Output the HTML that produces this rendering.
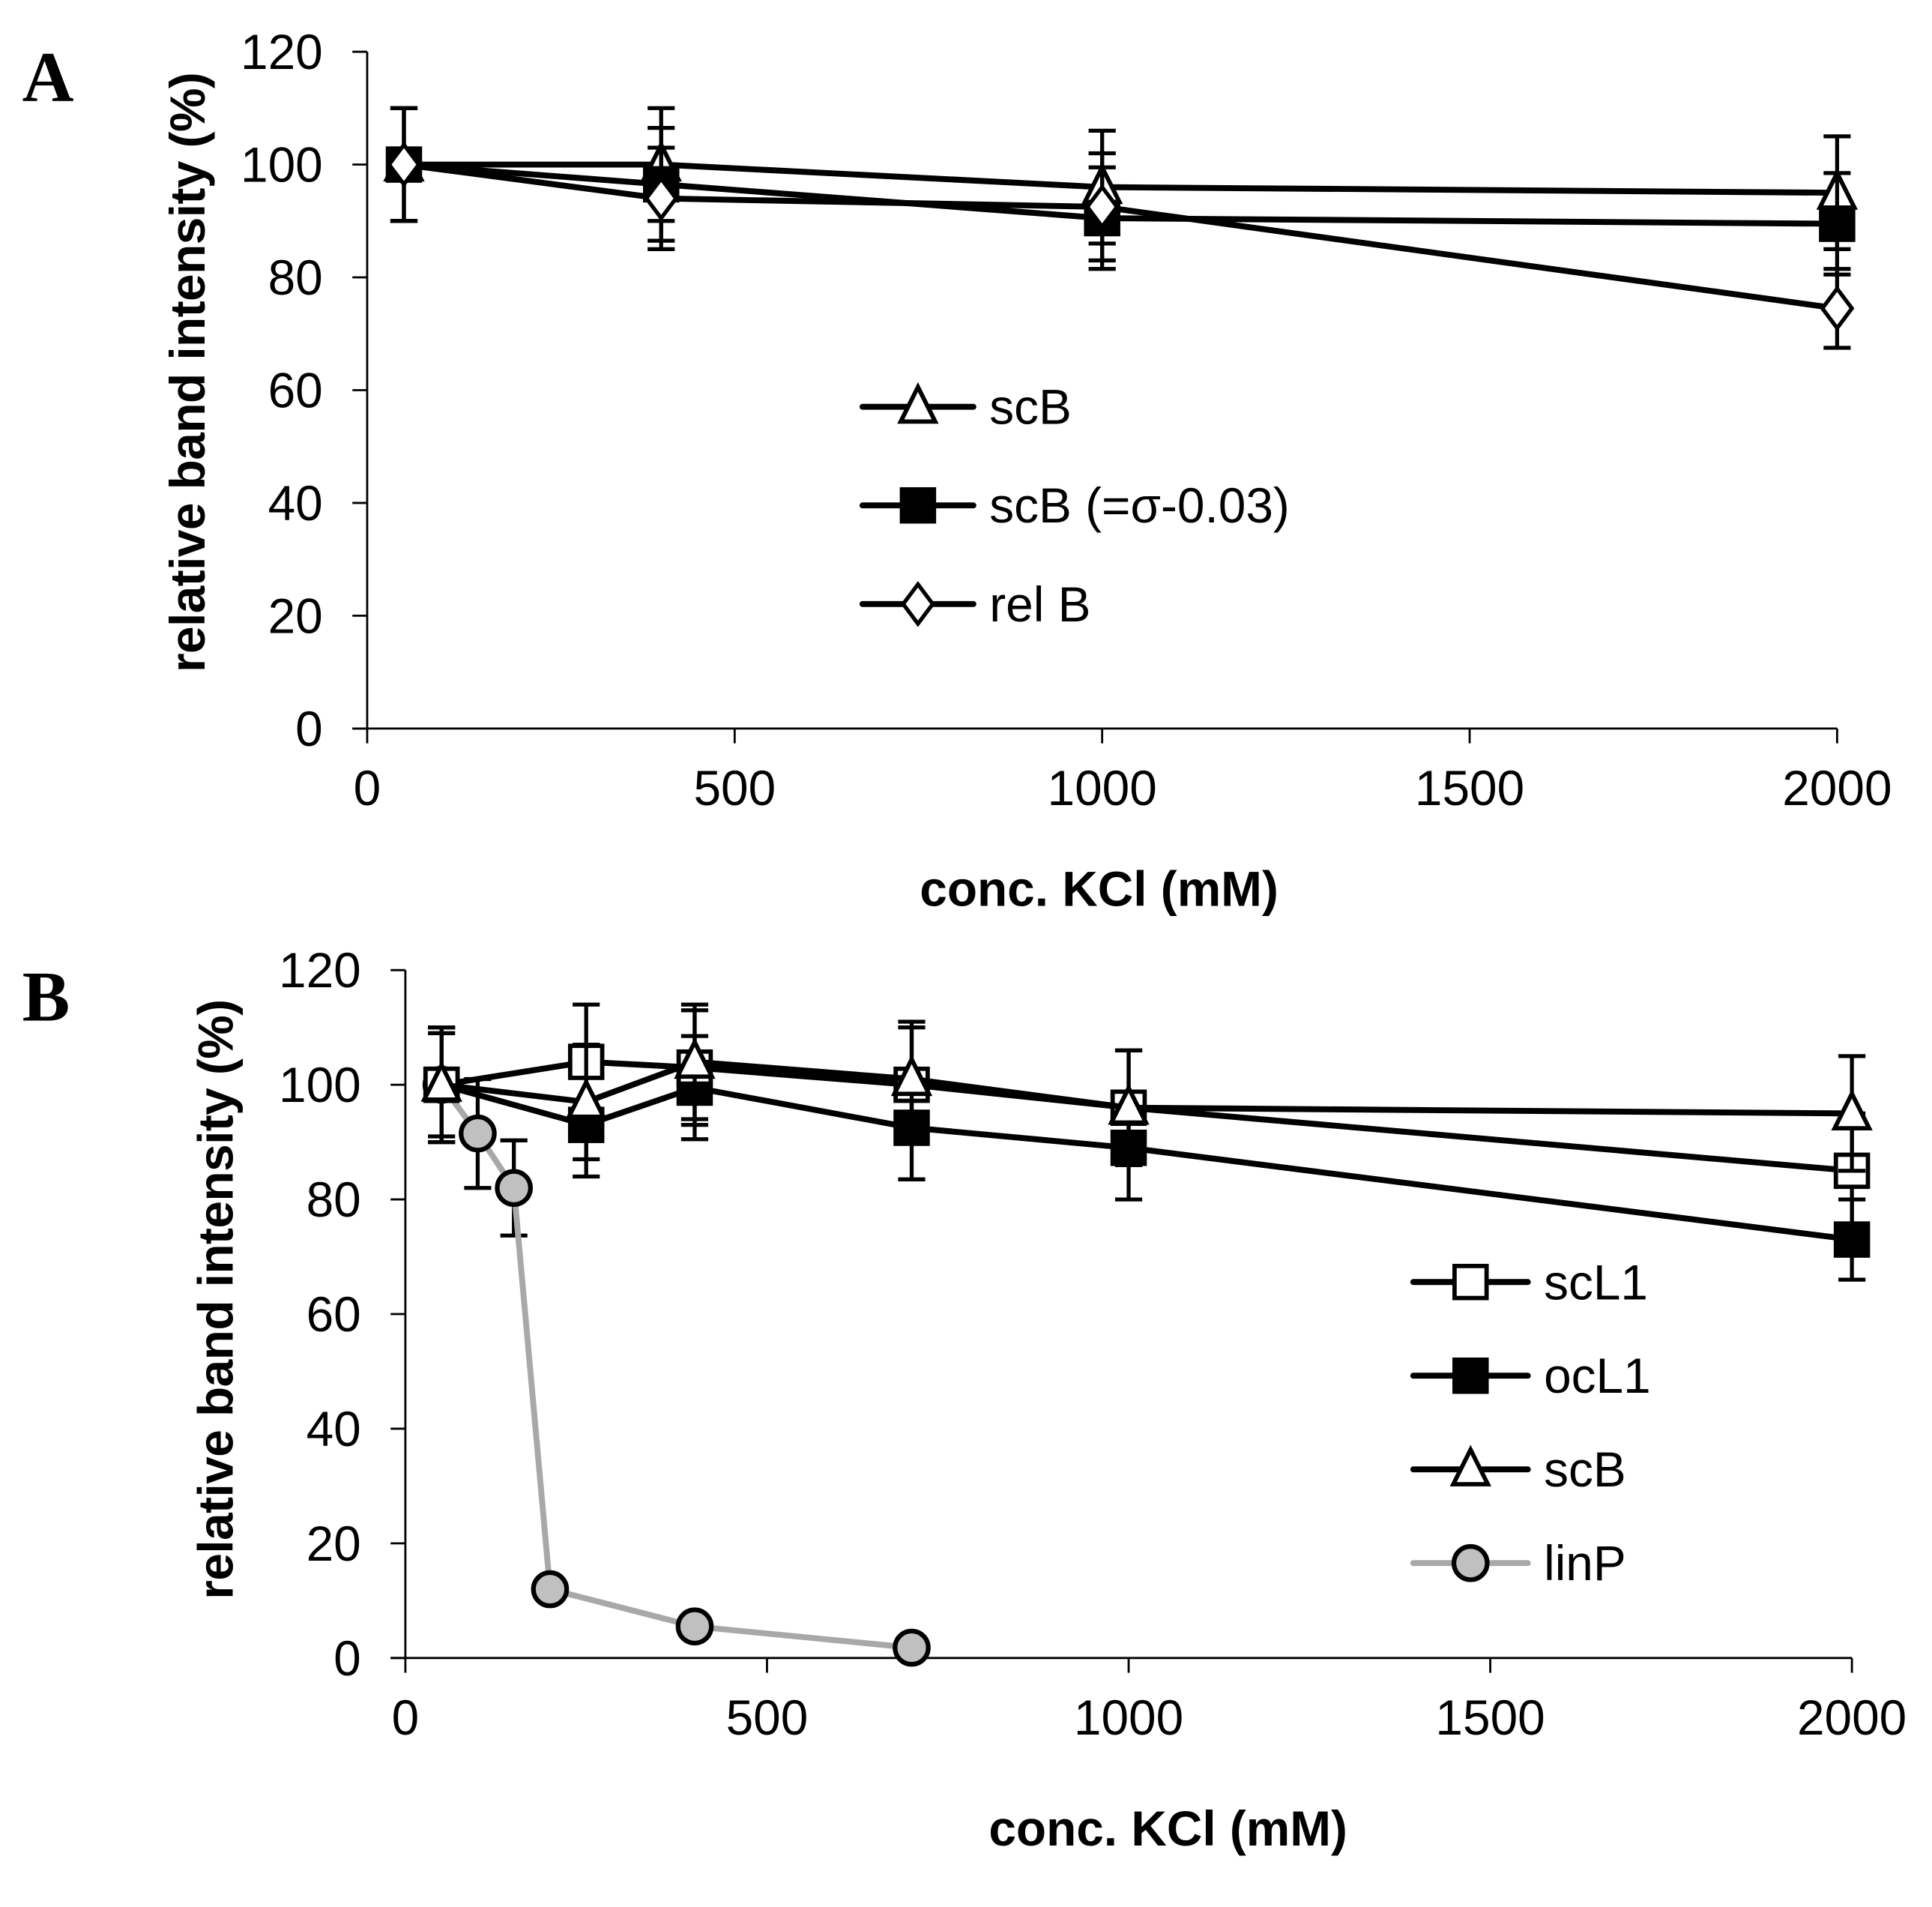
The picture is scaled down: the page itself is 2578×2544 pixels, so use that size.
<!DOCTYPE html>
<html><head><meta charset="utf-8"><style>
html,body{margin:0;padding:0;background:#fff;}
svg{display:block;}
text{font-family:"Liberation Sans",Arial,sans-serif;}
</style></head><body>
<svg id="fig" width="2578" height="2544" viewBox="0 0 1568 1547" preserveAspectRatio="none" xmlns="http://www.w3.org/2000/svg">
<rect width="1568" height="1547" fill="#fff"/>
<text x="18" y="82" style="font-family:'Liberation Serif',serif;font-weight:bold;font-size:58px">A</text>
<text x="18" y="828" style="font-family:'Liberation Serif',serif;font-weight:bold;font-size:58px">B</text>
<g id="chartA"></g>
<g id="chartB"></g>
</svg>
<script>
// Panel A data
const xA = [50, 400, 1000, 2000];
const aScB = [100, 100, 96, 95];
const aScBErr = [10, 10, 10, 10];
const aScBSig = [100, 96.5, 90.5, 89.5];
const aScBSigErr = [10, 10, 9, 9];
const aRelB = [100, 94, 92.5, 74.5];
const aRelBErr = [10, 9, 9.5, 7];
// Panel B data
const xB = [50, 250, 400, 700, 1000, 2000];
const bScL1 = [100, 104, 103, 100, 96, 85];
const bScL1Err = [10, 10, 10, 10, 10, 10];
const bOcL1 = [100, 93, 99.5, 92.5, 89, 73];
const bOcL1Err = [9, 9, 9, 9, 9, 7];
const bScB = [100, 97, 104, 101, 96, 95];
const bScBErr = [10, 10, 10, 10, 10, 10];
const xLin = [50, 100, 150, 200, 400, 700];
const bLinP = [100, 91.5, 82, 12, 5.5, 1.8];
const bLinPErr = [0, 9.5, 8.3, 0, 0, 0];
const yTicks = [0, 20, 40, 60, 80, 100, 120];
const xTicks = [0, 500, 1000, 1500, 2000];

const NS = "http://www.w3.org/2000/svg";
function mk(parent, tag, attrs, txt) {
  const e = document.createElementNS(NS, tag);
  for (const k in attrs) e.setAttribute(k, attrs[k]);
  if (txt !== undefined) e.textContent = txt;
  parent.appendChild(e);
  return e;
}

function axes(g, X, Y, cfg) {
  const ax = mk(g, 'line', {x1: X(0), y1: Y(120), x2: X(0), y2: Y(0), stroke: '#000', 'stroke-width': 1.7});
  
  
  const xl = mk(g, 'line', {x1: X(0) - 12, y1: Y(0), x2: X(2000), y2: Y(0), stroke: '#000', 'stroke-width': 1.7});
  
  
  yTicks.forEach(v => {
    const t = mk(g, 'line', {x1: X(0) - 12, y1: Y(v), x2: X(0), y2: Y(v), stroke: '#000', 'stroke-width': 1.7});
    
    
    const l = mk(g, 'text', {x: X(0) - 36, y: Y(v) + 14, 'font-size': 40, 'text-anchor': 'end'}, String(v));
    
    
  });
  xTicks.forEach(v => {
    const t = mk(g, 'line', {x1: X(v), y1: Y(0), x2: X(v), y2: Y(0) + 12, stroke: '#000', 'stroke-width': 1.7});
    
    
    const l = mk(g, 'text', {x: X(v), y: cfg.xlabY, 'font-size': 40, 'text-anchor': 'middle'}, String(v));
    
    
  });
  const xt = mk(g, 'text', {x: cfg.xtX, y: cfg.xtY, 'font-size': 40, 'font-weight': 'bold', 'text-anchor': 'middle'}, 'conc. KCl (mM)');
  
  
  const yt = mk(g, 'text', {x: 0, y: 0, 'font-size': 40, 'font-weight': 'bold', 'text-anchor': 'middle', textLength: 487, lengthAdjust: 'spacing', transform: `translate(${cfg.ytX},${cfg.ytY}) rotate(-90)`}, 'relative band intensity (%)');
  
  
}

function marker(g, type, cx, cy) {
  let m;
  if (type === 'sqOpen' || type === 'sqFill') {
    m = mk(g, 'rect', {x: cx - 13, y: cy - 13, width: 26, height: 26, fill: type === 'sqFill' ? '#000' : '#fff', stroke: '#000', 'stroke-width': 3.5});
  } else if (type === 'tri') {
    m = mk(g, 'polygon', {points: `${cx},${cy - 16} ${cx - 14},${cy + 12} ${cx + 14},${cy + 12}`, fill: '#fff', stroke: '#000', 'stroke-width': 3.5, 'stroke-linejoin': 'miter'});
  } else if (type === 'dia') {
    m = mk(g, 'polygon', {points: `${cx},${cy - 16} ${cx + 12},${cy} ${cx},${cy + 16} ${cx - 12},${cy}`, fill: '#fff', stroke: '#000', 'stroke-width': 3.2});
  } else {
    m = mk(g, 'circle', {cx: cx, cy: cy, r: 13.5, fill: '#c0c0c0', stroke: '#000', 'stroke-width': 3.8});
  }
  return m;
}

function series(g, X, Y, xs, ys, errs, type, name, color) {
  const sg = mk(g, 'g', {});
  
  
  xs.forEach((x, i) => {
    if (!errs[i]) return;
    const e = mk(sg, 'path', {d: `M${X(x)},${Y(ys[i] + errs[i])}V${Y(ys[i] - errs[i])}M${X(x) - 11},${Y(ys[i] + errs[i])}h22M${X(x) - 11},${Y(ys[i] - errs[i])}h22`, stroke: '#000', 'stroke-width': 3.2, fill: 'none'});
    
    
  });
  const pts = xs.map((x, i) => X(x) + ',' + Y(ys[i])).join(' ');
  const l = mk(sg, 'polyline', {points: pts, fill: 'none', stroke: color, 'stroke-width': 4.8, 'stroke-linejoin': 'round'});
  
  
  return {sg, draw: () => xs.forEach((x, i) => {
    const m = marker(sg, type, X(x), Y(ys[i]));
    
    
  })};
}

function legendEntry(g, x1, x2, y, type, label, color) {
  const lg = mk(g, 'g', {});
  
  
  mk(lg, 'line', {x1: x1, y1: y, x2: x2, y2: y, stroke: color, 'stroke-width': 4.8, 'stroke-linecap': 'round'});
  marker(lg, type, (x1 + x2) / 2, y);
  mk(lg, 'text', {x: x2 + 13, y: y + 14, 'font-size': 40}, label);
}

// Panel A
(function () {
  const g = document.getElementById('chartA');
  const X = v => 298 + v * (1491 - 298) / 2000;
  const Y = v => 591 - v * (591 - 42) / 120;
  axes(g, X, Y, {xlabY: 653, xtX: 892, xtY: 735, ytX: 166, ytY: 302});
  const s1 = series(g, X, Y, xA, aScB, aScBErr, 'tri', 'scB', '#000');
  const s2 = series(g, X, Y, xA, aScBSig, aScBSigErr, 'sqFill', 'scB-sigma', '#000');
  const s3 = series(g, X, Y, xA, aRelB, aRelBErr, 'dia', 'relB', '#000');
  s2.draw(); s1.draw(); s3.draw();
  const lg = mk(g, 'g', {});
  
  
  legendEntry(lg, 700, 790, 330, 'tri', 'scB', '#000');
  legendEntry(lg, 700, 790, 410, 'sqFill', 'scB (=σ-0.03)', '#000');
  legendEntry(lg, 700, 790, 490, 'dia', 'rel B', '#000');
})();

// Panel B
(function () {
  const g = document.getElementById('chartB');
  const X = v => 329 + v * (1503 - 329) / 2000;
  const Y = v => 1345 - v * (1345 - 787) / 120;
  axes(g, X, Y, {xlabY: 1407, xtX: 948, xtY: 1497, ytX: 189, ytY: 1054});
  const s4 = series(g, X, Y, xLin, bLinP, bLinPErr, 'circ', 'linP', '#a8a8a8');
  const s2 = series(g, X, Y, xB, bOcL1, bOcL1Err, 'sqFill', 'ocL1', '#000');
  const s1 = series(g, X, Y, xB, bScL1, bScL1Err, 'sqOpen', 'scL1', '#000');
  const s3 = series(g, X, Y, xB, bScB, bScBErr, 'tri', 'scB', '#000');
  s2.draw(); s1.draw(); s3.draw(); s4.draw();
  const lg = mk(g, 'g', {});
  
  
  legendEntry(lg, 1147, 1240, 1040, 'sqOpen', 'scL1', '#000');
  legendEntry(lg, 1147, 1240, 1116, 'sqFill', 'ocL1', '#000');
  legendEntry(lg, 1147, 1240, 1192, 'tri', 'scB', '#000');
  legendEntry(lg, 1147, 1240, 1268, 'circ', 'linP', '#a8a8a8');
})();
</script>
</body></html>
